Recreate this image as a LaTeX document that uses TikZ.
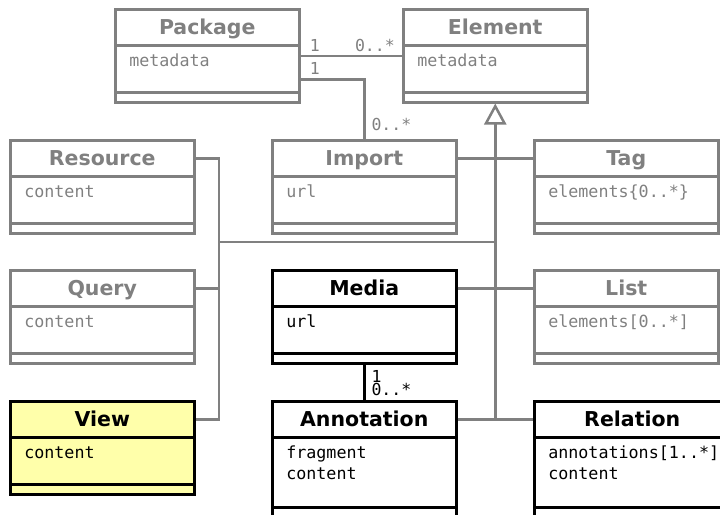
\documentclass[tikz,border=0pt]{standalone}
\usepackage{fontspec}
\usetikzlibrary{arrows.meta,calc}
\newfontfamily\umlsans{DejaVu Sans}
\newfontfamily\umlmono{DejaVu Sans Mono}
\definecolor{umlgrey}{HTML}{808080}
\definecolor{viewfill}{HTML}{FFFFAA}

\begin{document}
\begin{tikzpicture}[x=1pt, y=-1pt, line width=2.5pt,
		classbox/.style={draw, rectangle, inner sep=0, anchor=north west},
		classname/.style={draw, rectangle, inner sep=0, minimum height=36pt, anchor=north west,
			text height=15pt, text depth=1pt, font=\umlsans\bfseries\fontsize{20.5}{24}\selectfont},
		classattr/.style={draw=none, fill=none, inner sep=0, anchor=north west, align=left,
			font=\umlmono\fontsize{16.7}{21}\selectfont},
		mult/.style={inner sep=0, anchor=base west, font=\umlmono\fontsize{16.5}{20}\selectfont},
		oldclass/.style={draw=umlgrey, text=umlgrey},
		newclass/.style={draw=black, text=black},
		viewclass/.style={draw=black, text=black, fill=viewfill},
		link/.style={draw=umlgrey}]
	\useasboundingbox (0,0) rectangle (720,514);
	% classes
	\foreach \nm/\x/\y/\w/\h/\ttl/\attr/\sty in {
		package/114/8/184/93/Package/metadata/oldclass,
		element/402/8/184/93/Element/metadata/oldclass,
		resource/9/139/184/93/Resource/content/oldclass,
		import/271/139/184/93/Import/url/oldclass,
		tag/533/139/184/93/Tag/{elements\{0..*\}}/oldclass,
		query/9/269/184/93/Query/content/oldclass,
		media/271/269/184/93/Media/url/newclass,
		list/533/269/184/93/List/{elements[0..*]}/oldclass,
		view/9/400/184/93/View/content/viewclass,
		annotation/271/400/184/116/Annotation/{fragment\\content}/newclass,
		relation/533/400/196/116/Relation/{annotations[1..*]\\content}/newclass}
	{
		\node[classbox, \sty, minimum width=\w pt, minimum height=\h pt] (\nm-box) at (\x,\y) {};
		\node[classname, \sty, minimum width=\w pt] (\nm) at (\x,\y) {\ttl};
		\draw[\sty] ($(\nm-box.south west)+(0,-11)$) -- ++(\w,0);
		\node[\sty, classattr] at ($(\nm.south west)+(14,6)$) {\rule{0pt}{13pt}\attr};
	}
	% associations
	\draw[link] (package-box.east) -- (element-box.west);
	\draw[link] (package-box.east) ++(0,23.5) -| (import.north);
	\draw (media-box.south) -- (annotation.north);
	\node[mult, text=umlgrey] at ($(package-box.east)+(8,-4.5)$) {1};
	\node[mult, text=umlgrey, anchor=base east] at ($(element-box.west)+(-6,-4.5)$) {0..*};
	\node[mult, text=umlgrey] at ($(package-box.east)+(8,18.5)$) {1};
	\node[mult, text=umlgrey] at ($(import.north)+(6,-9)$) {0..*};
	\node[mult] at ($(media-box.south)+(6,18)$) {1};
	\node[mult] at ($(media-box.south)+(6,31)$) {0..*};
	% generalization
	\coordinate (junction) at (219,242);
	\draw[link, -{Triangle[open, length=21pt, width=22pt]}] (element-box.south |- annotation.east) -- (element-box.south);
	\draw[link] (import.east) -- (tag.west);
	\draw[link] (media.east) -- (list.west);
	\draw[link] (annotation.east) -- (relation.west);
	\draw[link] (resource.east) -| (junction) |- (view.east);
	\draw[link] (query.east) -- (query.east -| junction);
	\draw[link] (junction) -- (junction -| element-box.south);
\end{tikzpicture}
\end{document}
